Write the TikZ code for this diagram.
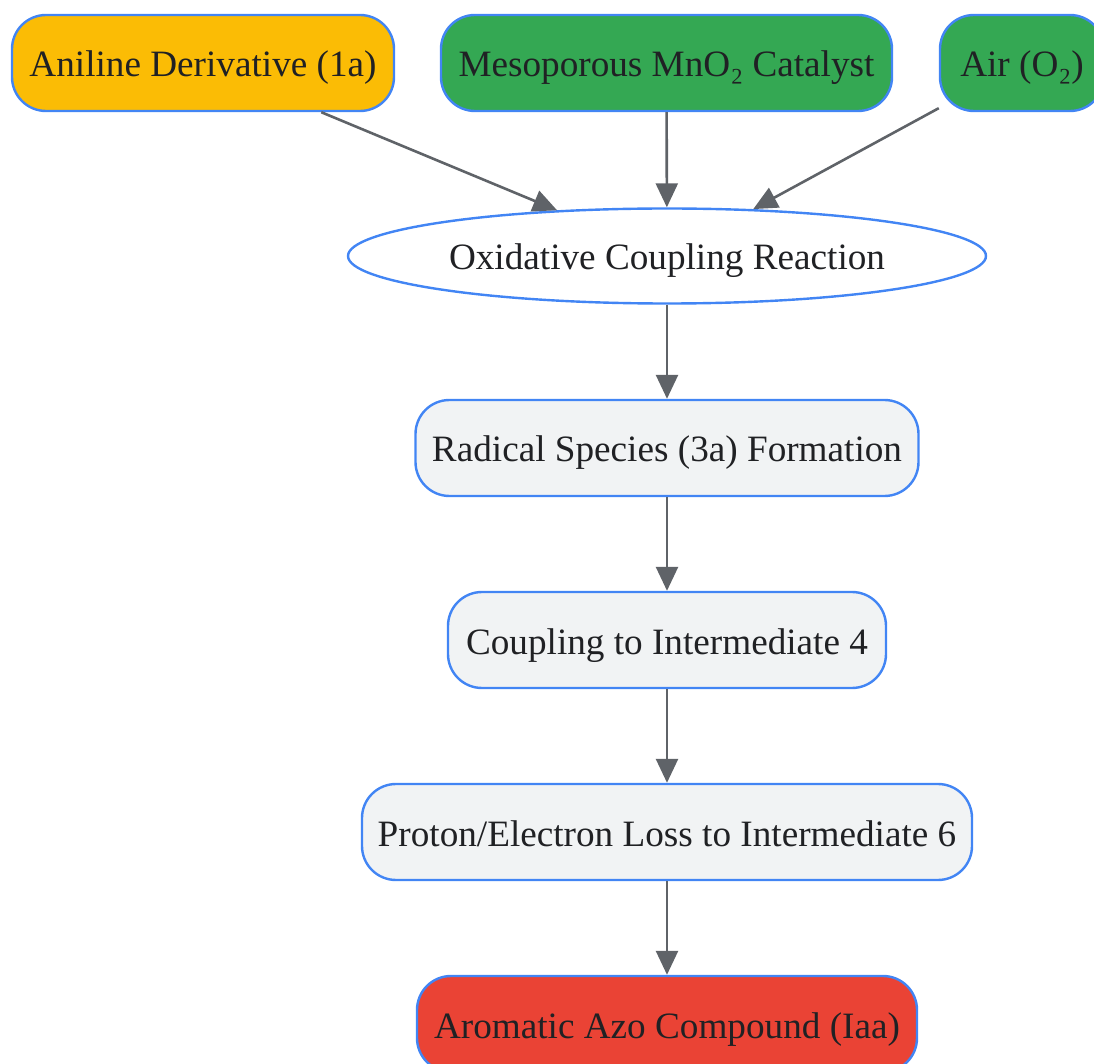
\documentclass[tikz,border=0pt]{standalone}
\usepackage{fontspec}
\setmainfont{Liberation Serif}
\usepackage{tikz}
\usetikzlibrary{arrows.meta,shapes.geometric}
\definecolor{gblue}{HTML}{4285F4}
\definecolor{gyellow}{HTML}{FBBC05}
\definecolor{ggreen}{HTML}{34A853}
\definecolor{gred}{HTML}{EA4335}
\definecolor{ggray}{HTML}{F1F3F4}
\definecolor{garrow}{HTML}{5F6368}
\definecolor{gtext}{HTML}{202124}
\tikzset{
  box/.style={draw=gblue, line width=1.2pt, rounded corners=17pt, inner sep=0pt,
    minimum height=48pt, text=gtext, font=\fontsize{18.6}{22}\selectfont,
    text height=14pt, text depth=0pt},
  stepbox/.style={box, fill=ggray},
  react/.style={draw=gblue, line width=1.2pt, ellipse, fill=white, inner sep=0pt,
    minimum width=319pt, minimum height=47.5pt, text=gtext, font=\fontsize{18.6}{22}\selectfont,
    text height=14pt, text depth=0pt},
  arr/.style={-{Triangle[length=12pt,width=11pt]}, draw=garrow, line width=1.3pt},
}
\begin{document}
\begin{tikzpicture}[x=0.5pt, y=-0.5pt]
    \useasboundingbox (0,0) rectangle (1094,1064);
    \node [box, fill=gyellow, minimum width=191pt] (aniline) at (203,63) {Aniline Derivative (1a)};
    \node [box, fill=ggreen, minimum width=225.5pt] (mno2) at (666.5,63) {Mesoporous MnO₂ Catalyst};
    \node [box, fill=ggreen, minimum width=82pt] (air) at (1022,63) {Air (O₂)};
    \node [react] (oxid) at (667,256) {Oxidative Coupling Reaction};
    \node [stepbox, minimum width=251.5pt] (radical) at (667,448) {Radical Species (3a) Formation};
    \node [stepbox, minimum width=219pt] (inter4) at (667,640) {Coupling to Intermediate 4};
    \node [stepbox, minimum width=305pt] (inter6) at (667,832) {Proton/Electron Loss to Intermediate 6};
    \node [box, fill=gred, minimum width=250pt] (azo) at (667,1024) {Aromatic Azo Compound (Iaa)};
    \draw [arr] (aniline) -- (oxid);
    \draw [arr] (mno2) -- (oxid);
    \draw [arr] (air) -- (oxid);
    \draw [arr] (oxid) -- (radical);
    \draw [arr] (radical) -- (inter4);
    \draw [arr] (inter4) -- (inter6);
    \draw [arr] (inter6) -- (azo);
  \end{tikzpicture}
\end{document}
